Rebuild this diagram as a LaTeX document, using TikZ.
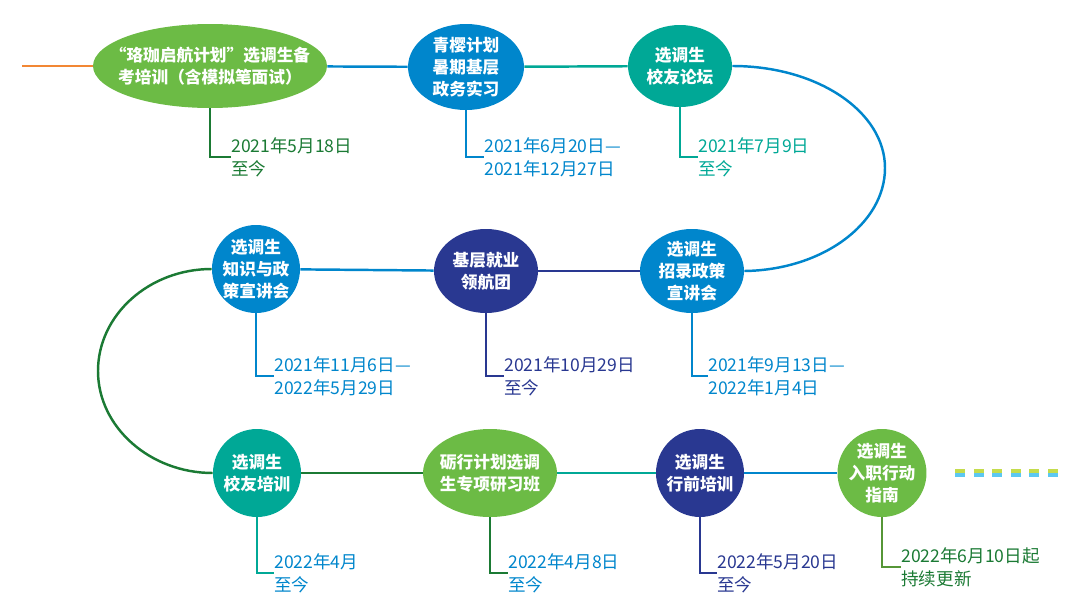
\documentclass[tikz,border=0pt]{standalone}
\usepackage{fontspec}
\setmainfont{Noto Sans CJK SC}
\usetikzlibrary{shapes.geometric}
\definecolor{leafgreen}{RGB}{108,187,69}
\definecolor{skyblue}{RGB}{0,134,204}
\definecolor{seateal}{RGB}{0,168,150}
\definecolor{deepnavy}{RGB}{41,56,145}
\definecolor{pinegreen}{RGB}{27,122,52}
\definecolor{sunorange}{RGB}{242,135,52}
\definecolor{limedash}{RGB}{196,220,76}
\definecolor{icedash}{RGB}{92,200,242}

\begin{document}
\begin{tikzpicture}[x=0.02cm,y=-0.02cm,
		stage/.style={ellipse,inner sep=0pt},
		caption/.style={inner sep=0pt,text=white,align=center,font=\bfseries\fontsize{9.5}{12.5}\selectfont},
		when/.style={anchor=west,inner sep=0pt,align=left,font=\fontsize{10}{13}\selectfont},
		track/.style={line width=1.4pt},
		drop/.style={line width=1.1pt}]
			\useasboundingbox (0,0) rectangle (1080,612);
			%\draw[help lines,step=50] (0,0) grid (1080,612);
			
			% first row
			\node[stage,fill=leafgreen,minimum width=4.68cm,minimum height=1.68cm,label={[caption]center:“珞珈启航计划”选调生备\\考培训（含模拟笔面试）}] (n1) at (210,66) {};
			\node[stage,fill=skyblue,minimum width=2.32cm,minimum height=1.72cm,label={[caption]center:青樱计划\\暑期基层\\政务实习}] (n2) at (466,67) {};
			\node[stage,fill=seateal,minimum width=2.08cm,minimum height=1.64cm,label={[caption]center:选调生\\校友论坛}] (n3) at (680,66) {};
			
			% second row
			\node[stage,fill=skyblue,minimum width=1.76cm,minimum height=1.76cm,label={[caption]center:选调生\\知识与政\\策宣讲会}] (n4) at (256,269) {};
			\node[stage,fill=deepnavy,minimum width=2.08cm,minimum height=1.68cm,label={[caption]center:基层就业\\领航团}] (n5) at (486,271) {};
			\node[stage,fill=skyblue,minimum width=2.08cm,minimum height=1.68cm,label={[caption]center:选调生\\招录政策\\宣讲会}] (n6) at (692,271) {};
			
			% third row
			\node[stage,fill=seateal,minimum width=1.76cm,minimum height=1.76cm,label={[caption]center:选调生\\校友培训}] (n7) at (257,473) {};
			\node[stage,fill=leafgreen,minimum width=2.68cm,minimum height=1.76cm,label={[caption]center:砺行计划选调\\生专项研习班}] (n8) at (490,473) {};
			\node[stage,fill=deepnavy,minimum width=1.76cm,minimum height=1.76cm,label={[caption]center:选调生\\行前培训}] (n9) at (700,473) {};
			\node[stage,fill=leafgreen,minimum width=1.78cm,minimum height=1.76cm,label={[caption]center:选调生\\入职行动\\指南}] (n10) at (882,473) {};
			
			% the track
			\coordinate (start) at (22,66);
			\draw[track,sunorange] (start) -- (n1);
			\draw[track,skyblue] (n1) -- (n2);
			\draw[track,seateal] (n2) -- (n3);
			\draw[track,skyblue] (n3.east) .. controls (818,66) and (885,112) .. (885,168) .. controls (885,224) and (822,270) .. (n6.east);
			\draw[track,deepnavy] (n6) -- (n5);
			\draw[track,skyblue] (n5) -- (n4);
			\draw[track,pinegreen] (n4.west) .. controls (149,269) and (98,315) .. (98,371) .. controls (98,427) and (150,473) .. (n7.west);
			\draw[track,pinegreen] (n7) -- (n8);
			\draw[track,seateal] (n8) -- (n9);
			\draw[track,skyblue] (n9) -- (n10);
			
			% dates
			\node[when,text=pinegreen] (d1) at (231,157) {2021年5月18日\\至今};
			\node[when,text=skyblue] (d2) at (484,157) {2021年6月20日—\\2021年12月27日};
			\node[when,text=seateal] (d3) at (698,157) {2021年7月9日\\至今};
			\node[when,text=skyblue] (d4) at (274,376) {2021年11月6日—\\2022年5月29日};
			\node[when,text=deepnavy] (d5) at (504,376) {2021年10月29日\\至今};
			\node[when,text=skyblue] (d6) at (708,376) {2021年9月13日—\\2022年1月4日};
			\node[when,text=skyblue] (d7) at (274,573) {2022年4月\\至今};
			\node[when,text=skyblue] (d8) at (508,573) {2022年4月8日\\至今};
			\node[when,text=deepnavy] (d9) at (717,573) {2022年5月20日\\至今};
			\node[when,text=pinegreen] (d10) at (901,567) {2022年6月10日起\\持续更新};
			
			\draw[drop,pinegreen] (n1.south) |- (d1.west);
			\draw[drop,skyblue] (n2.south) |- (d2.west);
			\draw[drop,seateal] (n3.south) |- (d3.west);
			\draw[drop,skyblue] (n4.south) |- (d4.west);
			\draw[drop,deepnavy] (n5.south) |- (d5.west);
			\draw[drop,skyblue] (n6.south) |- (d6.west);
			\draw[drop,seateal] (n7.south) |- (d7.west);
			\draw[drop,pinegreen] (n8.south) |- (d8.west);
			\draw[drop,deepnavy] (n9.south) |- (d9.west);
			\draw[drop,leafgreen!80!black] (n10.south) |- (d10.west);
			
			% more to come
			\foreach \i in {0,...,5}{
				\fill[limedash] (955+18.6*\i,469) rectangle ++(10,4);
				\fill[icedash] (955+18.6*\i,473) rectangle ++(10,4);
			}
		\end{tikzpicture}
\end{document}
